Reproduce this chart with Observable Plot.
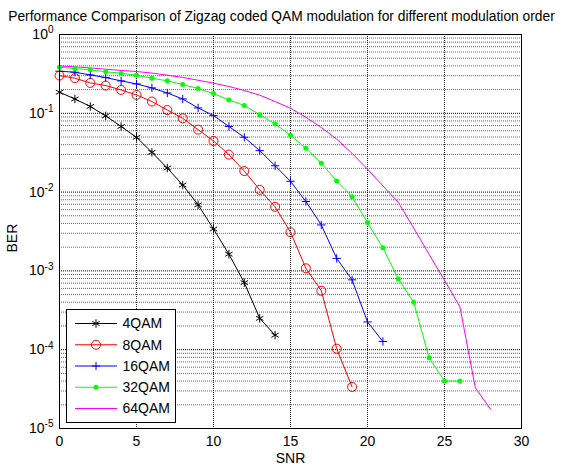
<!DOCTYPE html>
<html><head><meta charset="utf-8">
<script src="https://cdn.jsdelivr.net/npm/d3@7"></script>
<script src="https://cdn.jsdelivr.net/npm/@observablehq/plot@0.6"></script>
<style>body{margin:0;background:#fff;} #chart{width:561px;height:468px;}</style>
</head><body><div id="chart"></div>
<script>
const title = "Performance Comparison of Zigzag coded QAM modulation for different modulation order";
const xLabel = "SNR";
const yLabel = "BER";
const seriesNames = ["4QAM", "8QAM", "16QAM", "32QAM", "64QAM"];
const seriesColors = ["#000000", "#ff0000", "#0000ff", "#00ff00", "#ff00ff"];

const snr4 = [0,1,2,3,4,5,6,7,8,9,10,11,12,13,14];
const ber4 = [0.185,0.152,0.122,0.0927,0.068,0.0495,0.032,0.0202,0.0123,0.0069,0.0034,0.00163,0.00071,0.00025,0.000153];

const snr8 = [0,1,2,3,4,5,6,7,8,9,10,11,12,13,14,15,16,17,18,19];
const ber8 = [0.301,0.279,0.243,0.225,0.198,0.171,0.141,0.110,0.0864,0.062,0.0446,0.0299,0.0185,0.0107,0.0065,0.0031,0.00108,0.00056,0.000103,0.0000337];

const snr16 = [0,1,2,3,4,5,6,7,8,9,10,11,12,13,14,15,16,17,18,19,20,21];
const ber16 = [0.342,0.332,0.307,0.284,0.258,0.236,0.210,0.181,0.152,0.117,0.0935,0.068,0.0496,0.0336,0.0216,0.0137,0.0076,0.00383,0.00144,0.00077,0.000225,0.000127];

const snr32 = [0,1,2,3,4,5,6,7,8,9,10,11,12,13,14,15,16,17,18,19,20,21,22,23,24,25,26];
const ber32 = [0.384,0.370,0.356,0.336,0.323,0.304,0.279,0.258,0.232,0.206,0.178,0.148,0.126,0.0962,0.0733,0.0526,0.0359,0.0232,0.0138,0.0087,0.0041,0.00196,0.00079,0.0004,0.000079,0.00004,0.00004];

const snr64 = [0,1,2,3,4,5,6,7,8,9,10,11,12,13,14,15,16,17,18,19,20,21,22,23,24,25,26,27,28];
const ber64 = [0.398,0.389,0.376,0.363,0.35,0.339,0.324,0.305,0.285,0.263,0.241,0.219,0.195,0.170,0.141,0.116,0.089,0.066,0.047,0.031,0.0196,0.012,0.0074,0.0035,0.00162,0.00076,0.00035,0.000033,0.0000174];

const xTicks = [0, 5, 10, 15, 20, 25, 30];
const yTicks = [1e-5, 1e-4, 1e-3, 1e-2, 1e-1, 1];

const seriesData = [
  {snr: snr4, ber: ber4, symbol: "asterisk", r: 4, filled: false},
  {snr: snr8, ber: ber8, symbol: "circle", r: 4.5, filled: false},
  {snr: snr16, ber: ber16, symbol: "plus", r: 2.8, filled: false},
  {snr: snr32, ber: ber32, symbol: "circle", r: 2.5, filled: true},
  {snr: snr64, ber: ber64, symbol: null, r: 0, filled: false}
].map((s, i) => ({...s, name: seriesNames[i], color: seriesColors[i]}));

const rows = seriesData.flatMap(s => s.snr.map((x, i) => ({series: s.name, snr: x, ber: s.ber[i]})));

// grid positions (2..9 x each decade)
const decades = yTicks;
const minorGrid = [];
for (let e = -5; e < 0; e++) for (let k = 2; k <= 9; k++) minorGrid.push(k * Math.pow(10, e));

const dotMarks = seriesData.filter(s => s.symbol).map(s => Plot.dot(rows.filter(d => d.series === s.name), {
  x: "snr", y: "ber", symbol: () => s.symbol, r: s.r,
  stroke: s.filled ? "none" : s.color, fill: s.filled ? s.color : "none", strokeWidth: 1
}));

const FONT = "'Liberation Sans', Arial, Helvetica, sans-serif";

const svg = Plot.plot({
  width: 561, height: 468,
  marginLeft: 59, marginRight: 40, marginTop: 34, marginBottom: 40,
  style: {fontFamily: FONT, fontSize: "14px", background: "#fff", overflow: "visible"},
  x: {domain: [0, 30], label: null},
  y: {type: "log", domain: [1e-5, 1], label: null},
  color: {domain: seriesNames, range: seriesColors},
  marks: [
    Plot.ruleY(minorGrid, {stroke: "#000", strokeOpacity: 0.6, strokeDasharray: "1,1"}),
    Plot.ruleY(decades, {stroke: "#000", strokeDasharray: "1,1"}),
    Plot.ruleX(xTicks.slice(1, -1), {stroke: "#000", strokeOpacity: 0.85, strokeDasharray: "1,1"}),
    Plot.line(rows, {x: "snr", y: "ber", z: "series", stroke: "series", strokeWidth: 1}),
    ...dotMarks,
    Plot.frame({stroke: "#000"}),
    Plot.axisX({ticks: xTicks, tickSize: 0, tickPadding: 8, label: null, fontSize: 14}),
    Plot.axisY({ticks: yTicks, tickSize: 0, tickPadding: 6, label: null, fontSize: 14,
      tickFormat: d => "10^" + Math.round(Math.log10(d))}),
    Plot.text([title], {text: d => d, frameAnchor: "top", dy: -23, dx: -9, fontSize: 13.8}),
    Plot.text([xLabel], {text: d => d, frameAnchor: "bottom", dy: 34, fontSize: 14}),
    Plot.text([yLabel], {text: d => d, frameAnchor: "left", rotate: -90, dx: -47, dy: 21, fontSize: 14})
  ]
});

// MATLAB-style exponent labels
d3.select(svg).selectAll("text").each(function() {
  const t = this.textContent;
  if (t.startsWith("10^")) {
    const exp = t.slice(3);
    this.textContent = "10";
    d3.select(this).append("tspan").attr("dy", "-0.55em").attr("font-size", "10px").text(exp);
  }
});

// Legend
const lg = d3.select(svg).append("g").attr("font-family", FONT).attr("font-size", 14).attr("text-anchor", "start");
const lx = 66, ly = 309, lw = 109, lh = 113, step = 21.25, firstY = 323.5;
lg.append("rect").attr("x", lx + 0.5).attr("y", ly + 0.5).attr("width", lw).attr("height", lh)
  .attr("fill", "#fff").attr("stroke", "#000");
seriesData.forEach((s, i) => {
  const cy = firstY + i * step;
  lg.append("line").attr("x1", 75).attr("x2", 117).attr("y1", cy).attr("y2", cy).attr("stroke", s.color).attr("stroke-width", 1);
  if (s.symbol === "asterisk") {
    lg.append("path").attr("d", d3.symbol(d3.symbolAsterisk, Math.PI * s.r * s.r)()).attr("transform", `translate(96,${cy})`).attr("stroke", s.color).attr("fill", "none");
  } else if (s.symbol === "plus") {
    lg.append("path").attr("d", d3.symbol(d3.symbolPlus, Math.PI * s.r * s.r)()).attr("transform", `translate(96,${cy})`).attr("stroke", s.color).attr("fill", "none");
  } else if (s.symbol === "circle") {
    lg.append("circle").attr("cx", 96).attr("cy", cy).attr("r", s.r)
      .attr("fill", s.filled ? s.color : "none").attr("stroke", s.filled ? "none" : s.color);
  }
  lg.append("text").attr("x", 122.5).attr("y", cy).attr("dy", "0.35em").attr("text-anchor", "start").attr("fill", "#000").text(s.name);
});

document.getElementById("chart").appendChild(svg);
</script>
</body></html>
